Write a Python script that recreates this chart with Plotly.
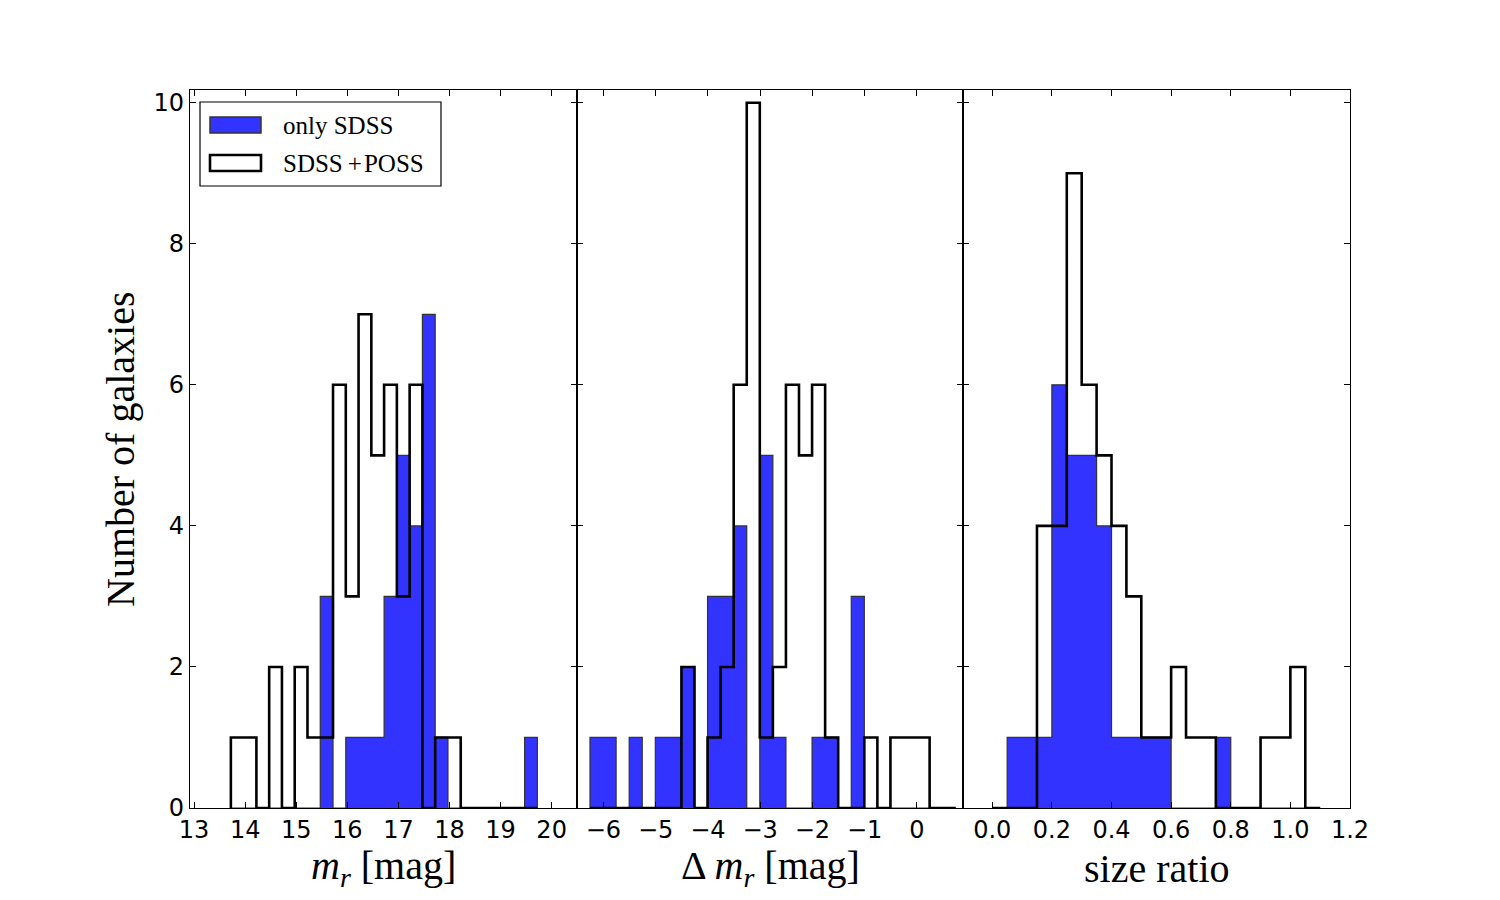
import plotly.graph_objects as go

# histogram bin edges and counts
mr_edges = [13.72, 13.97, 14.22, 14.47, 14.72, 14.97, 15.22, 15.47, 15.72, 15.97,
            16.22, 16.47, 16.72, 16.97, 17.22, 17.47, 17.72, 17.97, 18.22, 18.47,
            18.72, 18.97, 19.22, 19.47, 19.72]
mr_only_sdss = [0, 0, 0, 0, 0, 0, 0, 3, 0, 1, 1, 1, 3, 5, 4, 7, 1, 0, 0, 0, 0, 0, 0, 1]
mr_sdss_poss = [1, 1, 0, 2, 0, 2, 1, 1, 6, 3, 7, 5, 6, 3, 6, 0, 1, 1, 0, 0, 0, 0, 0, 0]

dm_edges = [-6.255, -6.005, -5.755, -5.505, -5.255, -5.005, -4.755, -4.505, -4.255,
            -4.005, -3.755, -3.505, -3.255, -3.005, -2.755, -2.505, -2.255, -2.005,
            -1.755, -1.505, -1.255, -1.005, -0.755, -0.505, -0.255, -0.005, 0.245,
            0.495, 0.745]
dm_only_sdss = [1, 1, 0, 1, 0, 1, 1, 2, 0, 3, 3, 4, 0, 5, 1, 0, 0, 1, 1, 0, 3, 0, 0, 0, 0, 0, 0, 0]
dm_sdss_poss = [0, 0, 0, 0, 0, 0, 0, 2, 0, 1, 2, 6, 10, 1, 2, 6, 5, 6, 1, 0, 0, 1, 0, 1, 1, 1, 0, 0]

sr_edges = [0.00, 0.05, 0.10, 0.15, 0.20, 0.25, 0.30, 0.35, 0.40, 0.45, 0.50, 0.55,
            0.60, 0.65, 0.70, 0.75, 0.80, 0.85, 0.90, 0.95, 1.00, 1.05, 1.10]
sr_only_sdss = [0, 1, 1, 1, 6, 5, 5, 4, 1, 1, 1, 1, 0, 0, 0, 1, 0, 0, 0, 0, 0, 0]
sr_sdss_poss = [0, 0, 0, 4, 4, 9, 6, 5, 4, 3, 1, 1, 2, 1, 1, 0, 0, 0, 1, 1, 2, 0]

# tick labels
mr_ticks = [13, 14, 15, 16, 17, 18, 19, 20]
dm_ticks = [-6, -5, -4, -3, -2, -1, 0]
sr_ticks = [0.0, 0.2, 0.4, 0.6, 0.8, 1.0, 1.2]
y_ticks = [0, 2, 4, 6, 8, 10]

W, H = 1500, 900
OFF = 8  # page body margin
BLUE = "#3333ff"
SERIF = "Liberation Serif"
SANS = "DejaVu Sans"


def px(x):
    return (x - OFF) / W


def py(y):
    return 1 - (y - OFF) / H


def step_outline(edges, counts):
    xs, ys = [edges[0]], [0]
    for i, c in enumerate(counts):
        xs += [edges[i], edges[i + 1]]
        ys += [c, c]
    xs.append(edges[-1])
    ys.append(0)
    return xs, ys


panels = [
    (mr_edges, mr_only_sdss, mr_sdss_poss),
    (dm_edges, dm_only_sdss, dm_sdss_poss),
    (sr_edges, sr_only_sdss, sr_sdss_poss),
]

fig = go.Figure()
for k, (edges, blue, white) in enumerate(panels):
    xa = "x" if k == 0 else f"x{k + 1}"
    ya = "y" if k == 0 else f"y{k + 1}"
    # filled step histogram (only SDSS)
    bx, by = step_outline(edges, blue)
    fig.add_trace(go.Scatter(
        x=bx, y=by, mode="lines", fill="toself", fillcolor=BLUE,
        line=dict(color="#333333", width=1.2),
        xaxis=xa, yaxis=ya, showlegend=False,
    ))
    # open step histogram (SDSS+POSS)
    sx, sy = step_outline(edges, white)
    fig.add_trace(go.Scatter(
        x=sx, y=sy, mode="lines",
        line=dict(color="black", width=2.6),
        xaxis=xa, yaxis=ya, showlegend=False,
    ))

left, right, top, bottom = 190, 1350, 90, 808
pw = (right - left) / 3
doms = [[px(left + i * pw), px(left + (i + 1) * pw)] for i in range(3)]

axis_common = dict(
    showline=True, linecolor="black", linewidth=1.3, mirror="ticks",
    ticks="inside", ticklen=6, tickwidth=1, tickcolor="black",
    showgrid=False, zeroline=False, automargin=False,
    tickfont=dict(family=SANS, size=24, color="black"),
)


def fmt(v):
    s = f"{v:.1f}" if isinstance(v, float) else str(v)
    return s.replace("-", "\u2212")


xranges = [[12.92, 20.49], [-6.51, 0.89], [-0.097, 1.2]]
xticks = [mr_ticks, dm_ticks, sr_ticks]
layout = dict(
    width=W, height=H, margin=dict(l=0, r=0, t=0, b=0),
    paper_bgcolor="white", plot_bgcolor="white",
)
for k in range(3):
    sfx = "" if k == 0 else str(k + 1)
    layout[f"xaxis{sfx}"] = dict(
        axis_common, domain=doms[k], range=xranges[k],
        anchor=f"y{sfx}", tickvals=xticks[k],
        ticktext=[fmt(v) for v in xticks[k]],
    )
    layout[f"yaxis{sfx}"] = dict(
        axis_common, domain=[py(bottom), py(top)], range=[0, 10.18],
        anchor=f"x{sfx}", tickvals=y_ticks,
        showticklabels=(k == 0),
    )
fig.update_layout(**layout)

# axis titles
label_font = dict(family=SERIF, size=40, color="black")
xlabels = ["<i>m</i><sub><i>r</i></sub> [mag]",
           "\u0394 <i>m</i><sub><i>r</i></sub> [mag]",
           "size ratio"]
for k, txt in enumerate(xlabels):
    fig.add_annotation(
        x=(doms[k][0] + doms[k][1]) / 2, y=py(868), xref="paper", yref="paper",
        text=txt, showarrow=False, font=label_font,
        xanchor="center", yanchor="middle",
    )
fig.add_annotation(
    x=px(121), y=py(450), xref="paper", yref="paper",
    text="Number of galaxies", textangle=-90, showarrow=False,
    font=label_font, xanchor="center", yanchor="middle",
)

# legend box drawn by hand
fig.add_shape(type="rect", xref="paper", yref="paper",
              x0=px(200), x1=px(441), y0=py(186), y1=py(102),
              line=dict(color="black", width=1.2), fillcolor="white")
fig.add_shape(type="rect", xref="paper", yref="paper",
              x0=px(210), x1=px(261), y0=py(133), y1=py(117),
              line=dict(color="#333333", width=1.5), fillcolor=BLUE)
fig.add_shape(type="rect", xref="paper", yref="paper",
              x0=px(210), x1=px(261), y0=py(171), y1=py(155),
              line=dict(color="black", width=2.6), fillcolor="white")
leg_font = dict(family=SERIF, size=25, color="black")
fig.add_annotation(x=px(281), y=py(125), xref="paper", yref="paper",
                   text="only SDSS", showarrow=False, font=leg_font,
                   xanchor="left", yanchor="middle")
fig.add_annotation(x=px(281), y=py(163), xref="paper", yref="paper",
                   text="SDSS\u2009+\u200aPOSS", showarrow=False, font=leg_font,
                   xanchor="left", yanchor="middle")

fig.write_html("out.html")
